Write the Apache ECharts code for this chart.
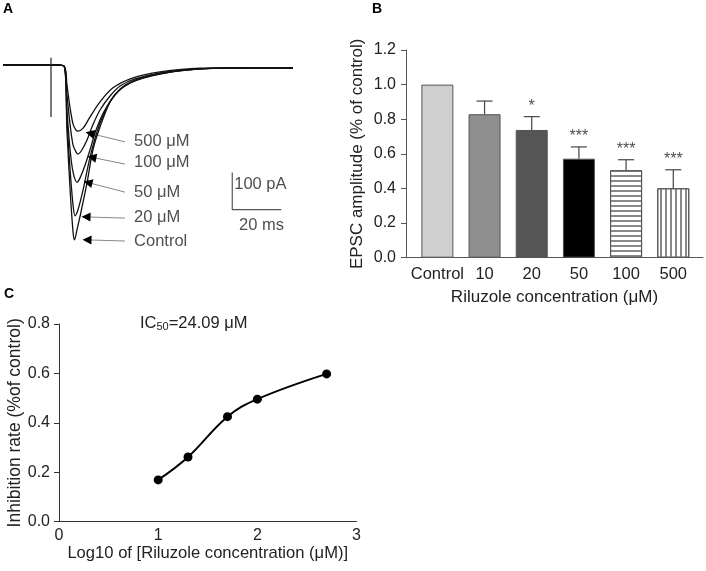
<!DOCTYPE html>
<html>
<head>
<meta charset="utf-8">
<script src="https://cdn.jsdelivr.net/npm/echarts@6/dist/echarts.min.js"></script>
<style>html,body{margin:0;padding:0;background:#fff}#c{width:706px;height:571px}</style>
</head>
<body>
<div id="c"></div>
<script>
// ---------- Panel A: EPSC traces (time in ms, current in pA) ----------
const traceControl = [[0,3],[19.2,3],[24.9,0],[26.1,-173],[27.4,-335],[28.6,-449],[29.2,-470],[30.2,-443],[31.4,-408],[34.3,-316],[36.7,-227],[39.6,-165],[43.7,-97],[47.8,-62],[53.9,-38],[64.1,-19],[80.4,-8],[100,-5],[118.4,-5]];
const trace20 = [[0,3],[19.2,3],[24.9,0],[26.1,-146],[27.4,-281],[28.6,-376],[29.4,-405],[30.6,-389],[32.7,-335],[35.1,-259],[37.6,-195],[40.4,-141],[44.5,-89],[49.8,-54],[60,-27],[80.4,-8],[100,-5],[118.4,-5]];
const trace50 = [[0,3],[19.2,3],[24.9,0],[26.1,-119],[27.4,-227],[28.6,-287],[30.2,-314],[31.4,-303],[33.5,-268],[35.5,-227],[38.0,-173],[41.2,-124],[45.7,-78],[51.8,-46],[64.1,-22],[80.4,-8],[100,-5],[118.4,-5]];
const trace100 = [[0,3],[19.2,3],[24.9,0],[26.1,-78],[27.4,-159],[28.6,-214],[29.8,-232],[30.6,-238],[32.2,-227],[34.3,-200],[36.7,-159],[39.6,-119],[43.7,-81],[47.8,-54],[53.9,-35],[64.1,-19],[80.4,-8],[100,-5],[118.4,-5]];
const trace500 = [[0,3],[19.2,3],[24.9,0],[26.1,-51],[27.4,-114],[28.6,-157],[29.8,-173],[30.6,-176],[32.7,-168],[35.5,-138],[39.6,-97],[44.9,-59],[53.1,-32],[64.1,-16],[80.4,-6],[100,-5],[118.4,-5]];
const stimArtifact = [[19.6,22],[19.6,-138]];
const traceLabels = ['500 μM','100 μM','50 μM','20 μM','Control'];
const arrowHeads = [[35.5,-182],[36.3,-247],[34.7,-315],[33.9,-408],[34.3,-470]];
const arrowEnds = [[49.8,-205],[49.8,-265],[49.8,-341],[49.8,-411],[49.8,-473]];
const labelPos = [[53.5,-203],[53.5,-262],[53.5,-341],[53.5,-408],[53.5,-473]];
const scaleBar = [[93.6,-288],[93.6,-388],[113.6,-388]];
const scaleLabels = ['100 pA','20 ms'];
const scaleLabelPos = [[94.4,-319],[96.4,-430]];

// ---------- Panel B: EPSC amplitude ----------
const categories = ['Control','10','20','50','100','500'];
const amplitude = [1.0, 0.829, 0.738, 0.572, 0.505, 0.401];
const amplitudeErr = [0, 0.076, 0.077, 0.068, 0.061, 0.107];
const significance = ['', '', '*', '***', '***', '***'];

// ---------- Panel C: inhibition curve ----------
const logConc = [1.0, 1.301, 1.699, 2.0, 2.699];
const inhibition = [0.169, 0.262, 0.425, 0.496, 0.598];

const FONT = 'Liberation Sans';
const chart = echarts.init(document.getElementById('c'), null, {renderer:'canvas'});

function traceSeries(data){
  return {type:'line', xAxisIndex:0, yAxisIndex:0, data:data, showSymbol:false, symbol:'none',
    smooth:0.3, lineStyle:{color:'#111', width:1.3}, silent:true, z:3};
}

const barColors = ['#cfcfcf','#8e8e8e','#555555','#000000','#ffffff','#ffffff'];
const barData = amplitude.map((v,i)=>{
  const item = {value:[i, v], itemStyle:{color:barColors[i], borderColor:'#555', borderWidth:1}};
  if(i===4){ item.itemStyle.decal = {symbol:'rect', symbolSize:1, color:'#888', dashArrayX:[[8,0]], dashArrayY:[1.2,2.2], rotation:0}; }
  if(i===5){ item.itemStyle.decal = {symbol:'rect', symbolSize:1, color:'#888', dashArrayX:[[1.2,2.2]], dashArrayY:[8,0], rotation:0}; }
  return item;
});

const option = {
  animation:false,
  textStyle:{fontFamily:FONT},
  grid:[
    {left:3, top:29, width:290, height:222},
    {left:406, top:50, width:297, height:207.7},
    {left:59, top:324, width:297.5, height:197.7}
  ],
  xAxis:[
    {gridIndex:0, type:'value', min:0, max:118.4, show:false},
    {gridIndex:1, type:'value', min:-0.665, max:5.63, splitLine:{show:false},
      axisLine:{onZero:false, lineStyle:{color:'#555', width:1}}, axisTick:{show:false},
      axisLabel:{customValues:[0,1,2,3,4,5], formatter:(v)=>categories[Math.round(v)], color:'#222', fontSize:16.5, margin:8, fontFamily:FONT},
      name:'Riluzole concentration (μM)', nameLocation:'middle', nameGap:31,
      nameTextStyle:{fontSize:17, color:'#222', fontFamily:FONT}},
    {gridIndex:2, type:'value', min:0, max:3, interval:1, splitLine:{show:false},
      axisLine:{onZero:false, lineStyle:{color:'#333', width:1}}, axisTick:{show:false},
      axisLabel:{color:'#222', fontSize:16, margin:6, fontFamily:FONT, showMaxLabel:true},
      name:'Log10 of [Riluzole concentration (μM)]', nameLocation:'middle', nameGap:21,
      nameTextStyle:{fontSize:16.6, color:'#222', fontFamily:FONT}}
  ],
  yAxis:[
    {gridIndex:0, type:'value', min:-500, max:100, show:false},
    {gridIndex:1, type:'value', min:0, max:1.2, interval:0.2, splitLine:{show:false},
      axisLine:{show:true, onZero:false, lineStyle:{color:'#555', width:1}}, axisTick:{show:true, length:5, lineStyle:{color:'#555'}},
      axisLabel:{formatter:(v)=>v.toFixed(1), color:'#222', fontSize:16, margin:10, fontFamily:FONT},
      name:'EPSC amplitude (% of control)', nameLocation:'middle', nameGap:40,
      nameTextStyle:{fontSize:17, color:'#222', fontFamily:FONT}},
    {gridIndex:2, type:'value', min:0, max:0.8, interval:0.2, splitLine:{show:false},
      axisLine:{show:true, onZero:false, lineStyle:{color:'#333', width:1}}, axisTick:{show:true, length:5, lineStyle:{color:'#333'}},
      axisLabel:{formatter:(v)=>v.toFixed(1), color:'#222', fontSize:16, margin:9, fontFamily:FONT},
      name:'Inhibition rate (%of control)', nameLocation:'middle', nameGap:35,
      nameTextStyle:{fontSize:17.5, color:'#222', fontFamily:FONT}}
  ],
  series:[
    traceSeries(trace500), traceSeries(trace100), traceSeries(trace50), traceSeries(trace20), traceSeries(traceControl),
    {type:'line', xAxisIndex:0, yAxisIndex:0, data:stimArtifact, symbol:'none', lineStyle:{color:'#222', width:1.2}, silent:true},
    {type:'line', xAxisIndex:0, yAxisIndex:0, data:scaleBar, symbol:'none', lineStyle:{color:'#555', width:1.2}, silent:true},
    {type:'lines', coordinateSystem:'cartesian2d', xAxisIndex:0, yAxisIndex:0, silent:true,
      data:arrowHeads.map((h,i)=>({coords:[h, arrowEnds[i]]})),
      lineStyle:{color:'#888', width:1, opacity:1}, symbol:'none'},
    {type:'lines', coordinateSystem:'cartesian2d', xAxisIndex:0, yAxisIndex:0, silent:true, z:5,
      data:arrowHeads.map((h,i)=>({coords:[h, [h[0]+1.5, h[1]+(arrowEnds[i][1]-h[1])*1.5/(arrowEnds[i][0]-h[0])]]})),
      lineStyle:{color:'#000', width:1, opacity:1}, symbol:['triangle','none'], symbolSize:[9,12]},
    {type:'scatter', xAxisIndex:0, yAxisIndex:0, symbolSize:0, silent:true,
      data:labelPos.map((p,i)=>({name:traceLabels[i], value:p})),
      label:{show:true, position:'right', distance:0, formatter:'{b}', color:'#222', fontSize:16.5, fontFamily:FONT}},
    {type:'scatter', xAxisIndex:0, yAxisIndex:0, symbolSize:0, silent:true,
      data:scaleLabelPos.map((p,i)=>({name:scaleLabels[i], value:p})),
      label:{show:true, position:'right', distance:0, formatter:'{b}', color:'#222', fontSize:16.5, fontFamily:FONT}},
    // Panel B
    {type:'bar', xAxisIndex:1, yAxisIndex:1, barWidth:32, data:barData, silent:true},
    {type:'custom', xAxisIndex:1, yAxisIndex:1, silent:true, z:4,
      data:amplitude.map((v,i)=>[i, v, v+amplitudeErr[i]]).filter((d,i)=>amplitudeErr[i]>0),
      renderItem:function(params, api){
        const p1 = api.coord([api.value(0), api.value(1)]);
        const p2 = api.coord([api.value(0), api.value(2)]);
        const st = {stroke:'#444', lineWidth:1.2};
        return {type:'group', children:[
          {type:'line', shape:{x1:p1[0], y1:p1[1], x2:p2[0], y2:p2[1]}, style:st},
          {type:'line', shape:{x1:p2[0]-8, y1:p2[1], x2:p2[0]+8, y2:p2[1]}, style:st}
        ]};
      }},
    {type:'scatter', xAxisIndex:1, yAxisIndex:1, symbolSize:0, silent:true,
      data:amplitude.map((v,i)=>({name:significance[i], value:[i, v+amplitudeErr[i]]})).filter(d=>d.name),
      label:{show:true, position:'top', distance:2, formatter:'{b}', color:'#222', fontSize:16, fontFamily:FONT}},
    // Panel C
    {type:'line', xAxisIndex:2, yAxisIndex:2, data:logConc.map((x,i)=>[x, inhibition[i]]), smooth:0.4,
      symbol:'circle', symbolSize:9, itemStyle:{color:'#000'}, lineStyle:{color:'#000', width:2}, silent:true}
  ],
  graphic:[
    {type:'text', left:3, top:2, style:{text:'A', font:'bold 14px '+FONT, fill:'#000'}},
    {type:'text', left:372, top:2, style:{text:'B', font:'bold 14px '+FONT, fill:'#000'}},
    {type:'text', left:4, top:287, style:{text:'C', font:'bold 14px '+FONT, fill:'#000'}},
    {type:'text', left:140, top:313, style:{text:'{n|IC}{s|50}{n|=24.09 μM}', rich:{
      n:{fontSize:16.5, fontFamily:FONT, fill:'#222', verticalAlign:'bottom', lineHeight:18},
      s:{fontSize:11, fontFamily:FONT, fill:'#222', padding:[8,0,0,0], verticalAlign:'bottom', lineHeight:18}}}}
  ]
};
chart.setOption(option);
</script>
</body>
</html>
